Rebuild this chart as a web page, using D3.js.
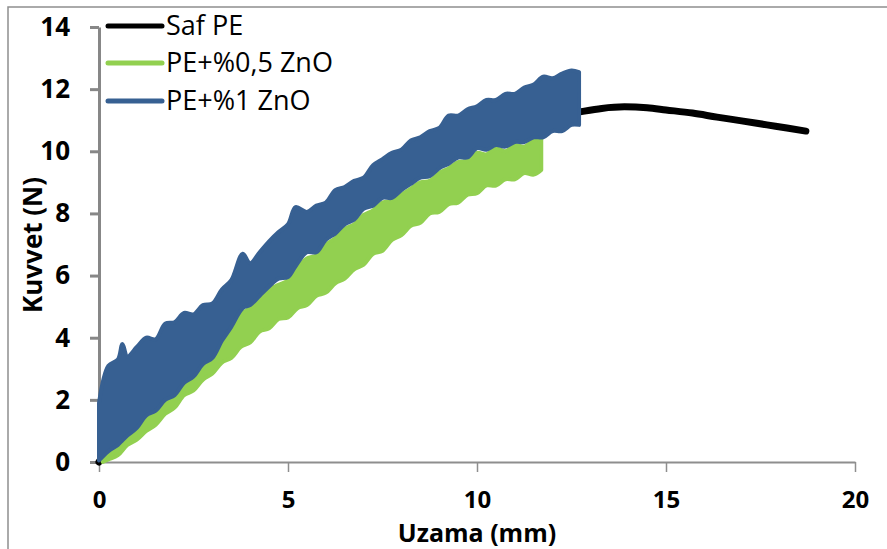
<!DOCTYPE html>
<html>
<head>
<meta charset="utf-8">
<script src="https://cdn.jsdelivr.net/npm/d3@7/dist/d3.min.js"></script>
<style>
  body { margin: 0; background: #fff; }
  svg { display: block; }
  text { font-family: "Open Sans", sans-serif; fill: #000; }
</style>
</head>
<body>
<svg id="chart" width="887" height="549"></svg>
<script>
// series names and colours
var seriesNames = ["Saf PE", "PE+%0,5 ZnO", "PE+%1 ZnO"];
var seriesColors = ["#000000", "#92d050", "#376092"];

// axis ticks
var xTicks = [0, 5, 10, 15, 20];
var yTicks = [0, 2, 4, 6, 8, 10, 12, 14];

// Saf PE: [uzama mm, kuvvet N]
var safPE = [
  [0, 0], [0.3, 0.55], [0.7, 1.2], [1.3, 2.05], [2.0, 2.9], [2.7, 3.75], [3.3, 4.45],
  [3.8, 5.15], [4.5, 5.95], [5, 6.4], [6, 7.45], [7, 8.35], [8, 9.05], [9, 9.7],
  [10, 10.3], [11, 10.75], [12, 11.1], [12.7, 11.26], [13.3, 11.38], [13.9, 11.43],
  [14.5, 11.4], [15, 11.33], [15.7, 11.23], [16.35, 11.1], [17, 10.98], [17.67, 10.85],
  [18.2, 10.75], [18.7, 10.65]
];

// PE+%0,5 ZnO: [uzama mm, lower kuvvet, upper kuvvet] of the noisy trace
var pe05 = [
  [0.1, 0.0, 0.5], [0.25, 0.08, 0.55], [0.5, 0.22, 0.75], [0.75, 0.55, 0.95],
  [1.0, 0.72, 1.25], [1.25, 1.0, 1.55], [1.5, 1.2, 1.8], [1.75, 1.55, 2.05],
  [2.0, 1.75, 2.3], [2.25, 2.15, 2.6], [2.5, 2.3, 2.9], [2.75, 2.65, 3.2],
  [3.0, 2.85, 3.45], [3.25, 3.2, 3.85], [3.5, 3.35, 4.3], [3.75, 3.7, 4.75],
  [4.0, 3.85, 4.95], [4.25, 4.2, 5.2], [4.5, 4.3, 5.55], [4.75, 4.6, 5.7],
  [5.0, 4.65, 5.85], [5.25, 4.95, 6.25], [5.5, 5.05, 6.55], [5.75, 5.35, 6.65],
  [6.0, 5.45, 7.0], [6.25, 5.75, 7.2], [6.5, 5.9, 7.5], [6.75, 6.2, 7.65],
  [7.0, 6.35, 7.95], [7.25, 6.7, 8.1], [7.5, 6.8, 8.35], [7.75, 7.15, 8.4],
  [8.0, 7.3, 8.6], [8.25, 7.6, 8.8], [8.5, 7.7, 9.0], [8.75, 8.0, 9.05],
  [9.0, 8.05, 9.3], [9.25, 8.3, 9.45], [9.5, 8.35, 9.65], [9.75, 8.6, 9.7],
  [10.0, 8.65, 9.95], [10.25, 8.9, 9.9], [10.5, 8.9, 10.1], [10.75, 9.1, 10.0],
  [11.0, 9.1, 10.2], [11.25, 9.3, 10.15], [11.5, 9.25, 10.35], [11.7, 9.4, 10.4]
];

// PE+%1 ZnO: [uzama mm, lower kuvvet, upper kuvvet] of the noisy trace
var pe1 = [
  [0.0, 0.05, 1.9], [0.25, 0.35, 3.1], [0.5, 0.55, 3.3], [0.62, 0.7, 3.8],
  [0.75, 0.85, 3.4], [1.0, 1.1, 3.7], [1.25, 1.5, 4.0], [1.5, 1.65, 3.95],
  [1.75, 2.0, 4.45], [2.0, 2.15, 4.5], [2.25, 2.55, 4.8], [2.5, 2.75, 4.75],
  [2.75, 3.15, 5.05], [3.0, 3.35, 5.1], [3.25, 3.9, 5.55], [3.5, 4.35, 5.85],
  [3.8, 4.95, 6.7], [4.0, 5.05, 6.4], [4.25, 5.35, 6.75], [4.5, 5.65, 7.1],
  [4.75, 5.9, 7.4], [5.0, 5.95, 7.65], [5.2, 6.3, 8.2], [5.5, 6.75, 8.05],
  [5.75, 6.75, 8.25], [6.0, 7.15, 8.35], [6.25, 7.35, 8.75], [6.5, 7.65, 8.85],
  [6.75, 7.8, 9.05], [7.0, 8.15, 9.15], [7.25, 8.25, 9.55], [7.5, 8.5, 9.75],
  [7.75, 8.5, 9.95], [8.0, 8.75, 10.05], [8.25, 8.95, 10.35], [8.5, 9.15, 10.45],
  [8.75, 9.2, 10.65], [9.0, 9.45, 10.75], [9.25, 9.6, 11.15], [9.5, 9.8, 11.15],
  [9.75, 9.8, 11.35], [10.0, 10.1, 11.45], [10.25, 10.05, 11.65], [10.5, 10.2, 11.65],
  [10.75, 10.15, 11.85], [11.0, 10.3, 11.85], [11.25, 10.3, 12.05], [11.5, 10.45, 12.15],
  [11.75, 10.45, 12.4], [12.0, 10.65, 12.35], [12.25, 10.65, 12.5], [12.5, 10.85, 12.6],
  [12.7, 10.85, 12.55]
];

var svg = d3.select("#chart");

// outer chart border
svg.append("rect")
    .attr("x", 8).attr("y", 7)
    .attr("width", 900).attr("height", 600)
    .attr("fill", "none")
    .attr("stroke", "#8e8e8e")
    .attr("stroke-width", 1.5);

var x = d3.scaleLinear().domain([0, 20]).range([99, 855]);
var y = d3.scaleLinear().domain([0, 14]).range([462, 27]);

// x axis
var gx = svg.append("g")
    .attr("transform", "translate(0," + y(0) + ")")
    .call(d3.axisBottom(x).tickValues(xTicks).tickSize(10).tickSizeOuter(0).tickPadding(19));
gx.select(".domain").attr("stroke", "#8e8e8e").attr("stroke-width", 2);
gx.selectAll(".tick line").attr("stroke", "#8e8e8e").attr("stroke-width", 1.5);
gx.selectAll(".tick text")
    .attr("font-size", 24).attr("font-weight", 700)
    .attr("font-family", "'Open Sans', sans-serif").attr("fill", "#000");

// y axis
var gy = svg.append("g")
    .attr("transform", "translate(" + x(0) + ",0)")
    .call(d3.axisLeft(y).tickValues(yTicks).tickSize(9).tickSizeOuter(0).tickPadding(20));
gy.select(".domain").attr("stroke", "#878787").attr("stroke-width", 3);
gy.selectAll(".tick line").attr("stroke", "#878787").attr("stroke-width", 3);
gy.selectAll(".tick text")
    .attr("font-size", 26).attr("font-weight", 700)
    .attr("font-family", "'Open Sans', sans-serif").attr("fill", "#000");

// axis titles
svg.append("text")
    .attr("x", 477).attr("y", 542)
    .attr("text-anchor", "middle")
    .attr("font-size", 25).attr("font-weight", 700)
    .text("Uzama (mm)");

svg.append("text")
    .attr("transform", "translate(42,245) rotate(-90)")
    .attr("text-anchor", "middle")
    .attr("font-size", 26).attr("font-weight", 700)
    .text("Kuvvet (N)");

// Saf PE smooth curve
var line = d3.line()
    .x(function(d) { return x(d[0]); })
    .y(function(d) { return y(d[1]); })
    .curve(d3.curveMonotoneX);

svg.append("path")
    .datum(safPE)
    .attr("d", line)
    .attr("fill", "none")
    .attr("stroke", seriesColors[0])
    .attr("stroke-width", 7)
    .attr("stroke-linecap", "round")
    .attr("stroke-linejoin", "round");

// noisy traces drawn as their band between lower and upper values
var band = d3.area()
    .x(function(d) { return x(d[0]); })
    .y0(function(d) { return y(d[1]); })
    .y1(function(d) { return y(d[2]); })
    .curve(d3.curveCatmullRom);

[pe05, pe1].forEach(function(data, i) {
  svg.append("path")
      .datum(data)
      .attr("d", band)
      .attr("fill", seriesColors[i + 1])
      .attr("stroke", seriesColors[i + 1])
      .attr("stroke-width", 4)
      .attr("stroke-linejoin", "round");
});

// legend
var legendY = [26, 63, 101];
var legend = svg.append("g");
seriesNames.forEach(function(name, i) {
  legend.append("line")
      .attr("x1", 108).attr("x2", 162)
      .attr("y1", legendY[i]).attr("y2", legendY[i])
      .attr("stroke", seriesColors[i])
      .attr("stroke-width", 5)
      .attr("stroke-linecap", "round");
  legend.append("text")
      .attr("x", 166).attr("y", legendY[i])
      .attr("dy", "0.35em")
      .attr("font-size", 27)
      .text(name);
});
</script>
</body>
</html>
